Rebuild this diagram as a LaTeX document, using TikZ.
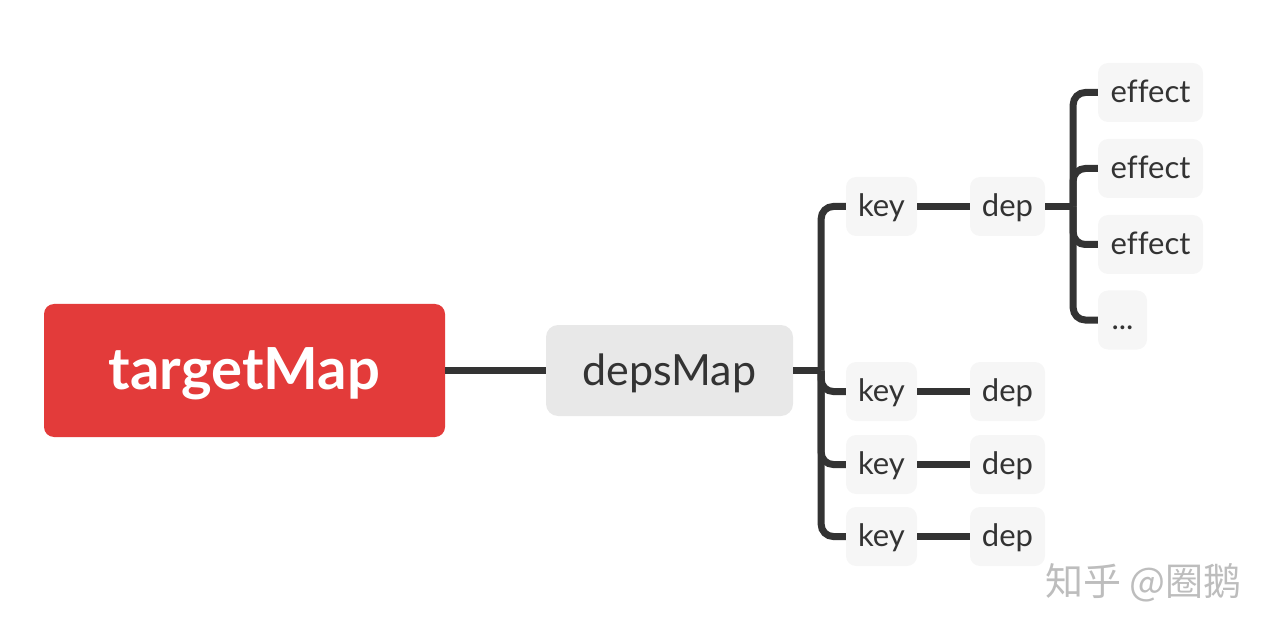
\documentclass[tikz,border=0pt]{standalone}
\usepackage{fontspec}
\setmainfont{Lato}[Ligatures=NoCommon]
\newfontfamily\cjkfont{Noto Sans CJK SC}
\definecolor{redbox}{HTML}{E33B3A}
\definecolor{graybox}{HTML}{E8E8E8}
\definecolor{lightbox}{HTML}{F6F6F6}
\definecolor{ink}{HTML}{333333}
\definecolor{wm}{HTML}{BDBDBD}
\tikzset{
  conn/.style={draw=ink, line width=7pt, rounded corners=12pt},
  rootbox/.style={fill=redbox, rounded corners=10pt, minimum width=401pt, minimum height=133pt, text=white, font=\fontsize{58}{66}\selectfont\bfseries, inner sep=0pt, text height=48pt, text depth=10pt},
  mapbox/.style={fill=graybox, rounded corners=12pt, minimum width=247pt, minimum height=91pt, text=ink, font=\fontsize{43}{50}\selectfont, inner sep=0pt, text height=36pt, text depth=7pt},
  leafbox/.style={fill=lightbox, rounded corners=10pt, minimum height=59pt, text=ink, font=\fontsize{31}{36}\selectfont, inner sep=0pt, text height=26pt, text depth=6pt},
}
\begin{document}
\begin{tikzpicture}[x=1pt, y=-1pt]
\useasboundingbox (0,0) rectangle (1274,636);
\node[rootbox] (tm) at (244.5,370.5) {targetMap};
\node[mapbox] (dm) at (669.5,370.5) {depsMap};
\node[leafbox, minimum width=71pt] (k1) at (881.5,206.5) {key};
\node[leafbox, minimum width=71pt] (k2) at (881.5,391.5) {key};
\node[leafbox, minimum width=71pt] (k3) at (881.5,464.5) {key};
\node[leafbox, minimum width=71pt] (k4) at (881.5,536.5) {key};
\node[leafbox, minimum width=75pt] (d1) at (1007.5,206.5) {dep};
\node[leafbox, minimum width=75pt] (d2) at (1007.5,391.5) {dep};
\node[leafbox, minimum width=75pt] (d3) at (1007.5,464.5) {dep};
\node[leafbox, minimum width=75pt] (d4) at (1007.5,536.5) {dep};
\node[leafbox, minimum width=105pt] (e1) at (1150.5,92.5) {effect};
\node[leafbox, minimum width=105pt] (e2) at (1150.5,168.5) {effect};
\node[leafbox, minimum width=105pt] (e3) at (1150.5,244.5) {effect};
\node[leafbox, minimum width=49pt] (e4) at (1122.5,320) {...};
\node[text=wm, font=\cjkfont\fontsize{38}{44}\selectfont, anchor=east, inner sep=0pt] (wmk) at (1242,583) {知乎 @圈鹅};
% connectors
\draw[conn] (tm.east) -- (dm.west);
\draw[conn] (dm.east) -- ++(28,0) coordinate (j1);
\foreach \k in {k1,k2,k3,k4} { \draw[conn] (j1) |- (\k.west); }
\foreach \i in {1,2,3,4} { \draw[conn] (k\i.east) -- (d\i.west); }
\draw[conn] (d1.east) -- ++(28,0) coordinate (j2);
\foreach \e in {e1,e2,e3,e4} { \draw[conn] (j2) |- (\e.west); }
\end{tikzpicture}
\end{document}
